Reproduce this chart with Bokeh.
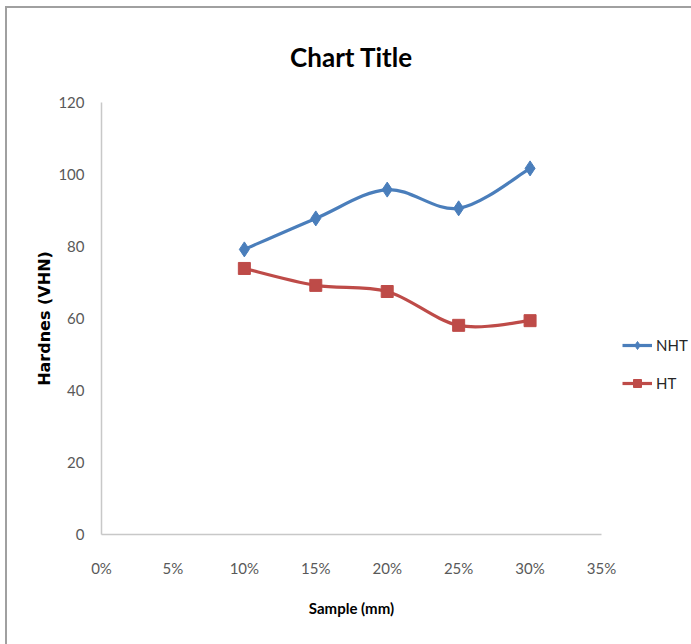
from bokeh.plotting import figure
from bokeh.models import (FixedTicker, NumeralTickFormatter, Legend, LegendItem,
                          ColumnDataSource, Range1d, Title)
from bokeh.embed import file_html
from bokeh.resources import INLINE

# ---- data ----
samples = [0.10, 0.15, 0.20, 0.25, 0.30]
nht = [79.2, 87.8, 95.8, 90.6, 101.7]
ht = [73.9, 69.2, 67.5, 58.1, 59.4]
x_ticks = [0.0, 0.05, 0.10, 0.15, 0.20, 0.25, 0.30, 0.35]
y_ticks = [0, 20, 40, 60, 80, 100, 120]

BLUE = "#4A7EBB"
RED = "#BE4B48"
FONT = "Lato"


def smooth_segments(xs, ys):
    """Excel-like smoothed line: cubic Bezier segments (Catmull-Rom style)."""
    n = len(xs)
    d = dict(x0=[], y0=[], x1=[], y1=[], cx0=[], cy0=[], cx1=[], cy1=[])
    for i in range(n - 1):
        ip = max(i - 1, 0)
        inn = min(i + 2, n - 1)
        d["x0"].append(xs[i]); d["y0"].append(ys[i])
        d["x1"].append(xs[i + 1]); d["y1"].append(ys[i + 1])
        d["cx0"].append(xs[i] + (xs[i + 1] - xs[ip]) / 6.0)
        d["cy0"].append(ys[i] + (ys[i + 1] - ys[ip]) / 6.0)
        d["cx1"].append(xs[i + 1] - (xs[inn] - xs[i]) / 6.0)
        d["cy1"].append(ys[i + 1] - (ys[inn] - ys[i]) / 6.0)
    return ColumnDataSource(d)


p = figure(frame_width=500, frame_height=432, output_backend="svg",
           toolbar_location=None,
           x_range=Range1d(0, 0.35), y_range=Range1d(0, 120),
           min_border_left=94, min_border_right=90, min_border_top=93,
           min_border_bottom=111)
p.margin = (8, 0, 0, 7)
p.styles = {"outline": "2px solid #a0a0a0"}

p.title = Title(text="Chart Title", align="center", text_font=FONT,
                text_font_size="26px", text_font_style="bold", text_color="#000000",
                standoff=60)

p.grid.visible = False
p.outline_line_color = None

for ax in (p.xaxis[0], p.yaxis[0]):
    ax.axis_line_color = "#c8c8c8"
    ax.axis_line_width = 1.5
    ax.major_tick_line_color = None
    ax.minor_tick_line_color = None
    ax.major_label_text_font = FONT
    ax.major_label_text_font_size = "15px"
    ax.major_label_text_color = "#595959"
    ax.axis_label_text_font_style = "bold"
    ax.axis_label_text_color = "#000000"

p.xaxis.ticker = FixedTicker(ticks=x_ticks)
p.xaxis.formatter = NumeralTickFormatter(format="0%")
p.xaxis.major_label_standoff = 18
p.xaxis.axis_label = "Sample (mm)"
p.xaxis.axis_label_text_font = FONT
p.xaxis.axis_label_text_font_size = "15px"
p.xaxis.axis_label_standoff = 19

p.yaxis.ticker = FixedTicker(ticks=y_ticks)
p.yaxis.major_label_standoff = 11
p.yaxis.axis_label = "Hardnes (VHN)"
p.yaxis.axis_label_text_font = "DejaVu Sans"
p.yaxis.axis_label_text_font_size = "16px"
p.yaxis.axis_label_standoff = 1

src_nht = smooth_segments(samples, nht)
src_ht = smooth_segments(samples, ht)

l1 = p.bezier(x0="x0", y0="y0", x1="x1", y1="y1", cx0="cx0", cy0="cy0",
              cx1="cx1", cy1="cy1", source=src_nht, line_color=BLUE, line_width=3.2)
m1 = p.scatter(samples, nht, marker="diamond", size=15, fill_color=BLUE,
               line_color=BLUE)
l2 = p.bezier(x0="x0", y0="y0", x1="x1", y1="y1", cx0="cx0", cy0="cy0",
              cx1="cx1", cy1="cy1", source=src_ht, line_color=RED, line_width=3.2)
m2 = p.scatter(samples, ht, marker="square", size=12, fill_color=RED,
               line_color=RED)

legend = Legend(items=[LegendItem(label="NHT", renderers=[l1, m1]),
                       LegendItem(label="HT", renderers=[l2, m2])],
                location=(21, 141), padding=0, margin=0, spacing=18,
                glyph_width=30, glyph_height=20, label_standoff=4,
                label_text_font=FONT, label_text_font_size="15px",
                label_text_color="#262626",
                border_line_color=None, background_fill_alpha=0)
p.add_layout(legend, "right")

open("out.html", "w").write(file_html(p, INLINE))
